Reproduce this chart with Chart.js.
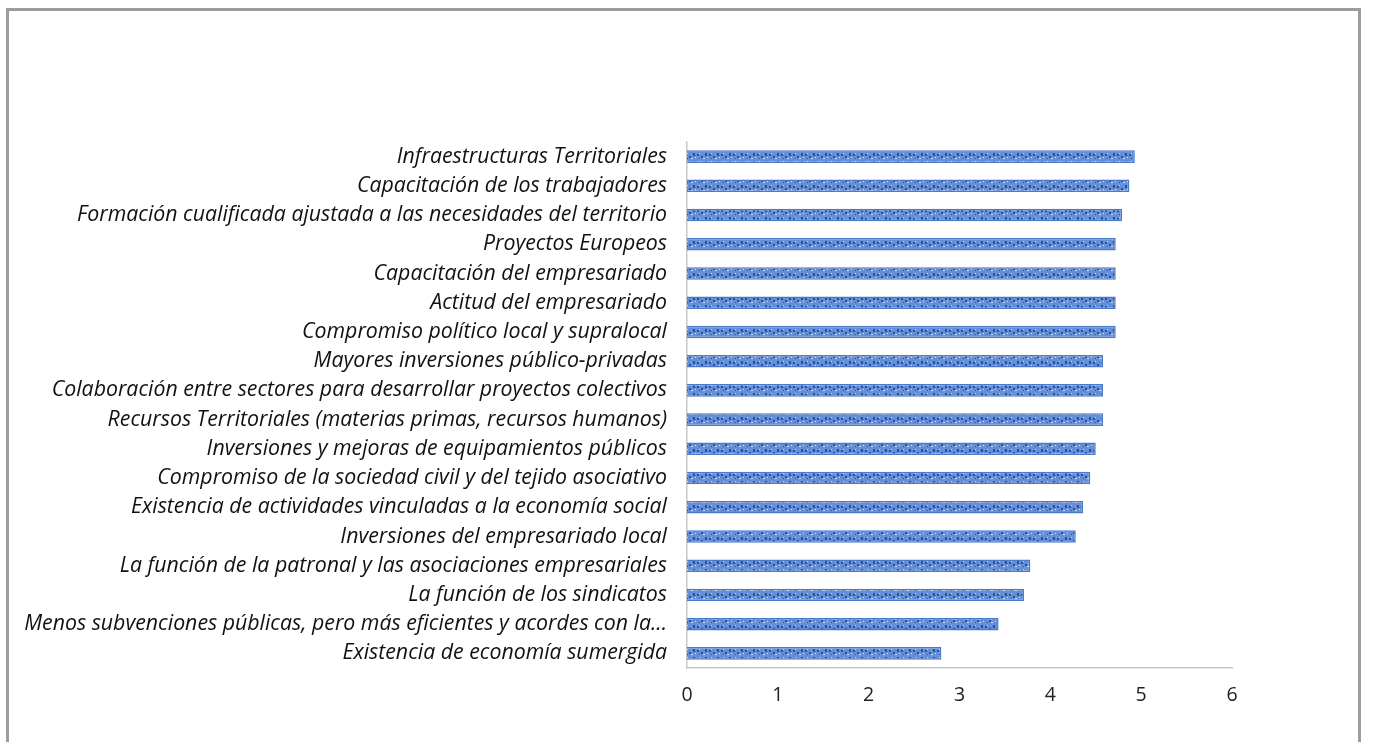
<!DOCTYPE html>
<html>
<head>
<meta charset="utf-8">
<title>Factores de desarrollo</title>
<script src="https://cdn.jsdelivr.net/npm/chart.js@4.4.1/dist/chart.umd.min.js"></script>
<style>
  html, body { margin: 0; padding: 0; background: #fff; }
  .wrap { position: relative; width: 1373px; height: 742px; overflow: hidden; }
  .frame { position: absolute; left: 6px; top: 8px; width: 1355px; height: 750px; border: 3px solid #9c9c9c; box-sizing: border-box; }
  canvas { position: absolute; left: 0; top: 0; }
</style>
</head>
<body>
<div class="wrap">
  <div class="frame"></div>
  <canvas id="bars" width="1373" height="742"></canvas>
</div>
<script>
// categories, top to bottom
const labels = [
  "Infraestructuras Territoriales",
  "Capacitación de los trabajadores",
  "Formación cualificada ajustada a las necesidades del territorio",
  "Proyectos Europeos",
  "Capacitación del empresariado",
  "Actitud del empresariado",
  "Compromiso político local y supralocal",
  "Mayores inversiones público-privadas",
  "Colaboración entre sectores para desarrollar proyectos colectivos",
  "Recursos Territoriales (materias primas, recursos humanos)",
  "Inversiones y mejoras de equipamientos públicos",
  "Compromiso de la sociedad civil y del tejido asociativo",
  "Existencia de actividades vinculadas a la economía social",
  "Inversiones del empresariado local",
  "La función de la patronal y las asociaciones empresariales",
  "La función de los sindicatos",
  "Menos subvenciones públicas, pero más eficientes y acordes con la...",
  "Existencia de economía sumergida"
];

const values = [4.93, 4.87, 4.79, 4.72, 4.72, 4.72, 4.72, 4.58, 4.58, 4.58, 4.50, 4.44, 4.36, 4.28, 3.78, 3.71, 3.43, 2.80];

const xTicks = [0, 1, 2, 3, 4, 5, 6];

// little texture like the office "dotted" fill
function makePattern() {
    const p = document.createElement("canvas");
    p.width = 12; p.height = 8;
    const c = p.getContext("2d");
    c.fillStyle = "#6590d8";
    c.fillRect(0, 0, 12, 8);
    c.fillStyle = "#28509f";
    c.fillRect(1, 2, 2, 2);
    c.fillRect(5, 4, 2, 2);
    c.fillRect(9, 1, 2, 3);
    c.fillRect(3, 6, 1, 1);
    c.fillStyle = "#c9dbf5";
    c.fillRect(3, 1, 1, 1);
    c.fillRect(7, 6, 2, 1);
    c.fillRect(11, 5, 1, 1);
    return c.createPattern(p, "repeat");
}

const ctx = document.getElementById("bars").getContext("2d");

new Chart(ctx, {
    type: "bar",
    data: {
        labels: labels,
        datasets: [{
            data: values,
            backgroundColor: makePattern(),
            borderColor: "#4a7acb",
            borderWidth: 1.5,
            barPercentage: 0.86,
            categoryPercentage: 0.5,
        }],
    },
    options: {
        indexAxis: "y",
        responsive: false,
        animation: false,
        layout: { padding: { top: 142, right: 141, left: 0, bottom: 0 } },
        plugins: {
            legend: { display: false },
            tooltip: { enabled: false },
        },
        scales: {
            x: {
                min: 0,
                max: 6,
                afterBuildTicks: (scale) => { scale.ticks = xTicks.map(v => ({ value: v })); },
                afterFit: (scale) => { scale.height = 74; },
                grid: { display: false, drawTicks: false },
                border: { display: true, color: "#c8c8c8", width: 1.5 },
                ticks: {
                    padding: 16,
                    color: "#222",
                    font: { family: "Open Sans", size: 19.5 },
                },
            },
            y: {
                afterFit: (scale) => { scale.width = 687; },
                grid: { display: false, drawTicks: false },
                border: { display: true, color: "#c8c8c8", width: 1.5 },
                ticks: {
                    padding: 20,
                    color: "#111",
                    autoSkip: false,
                    font: { family: "Open Sans", size: 21.3, style: "italic" },
                },
            },
        },
    },
});
</script>
</body>
</html>
